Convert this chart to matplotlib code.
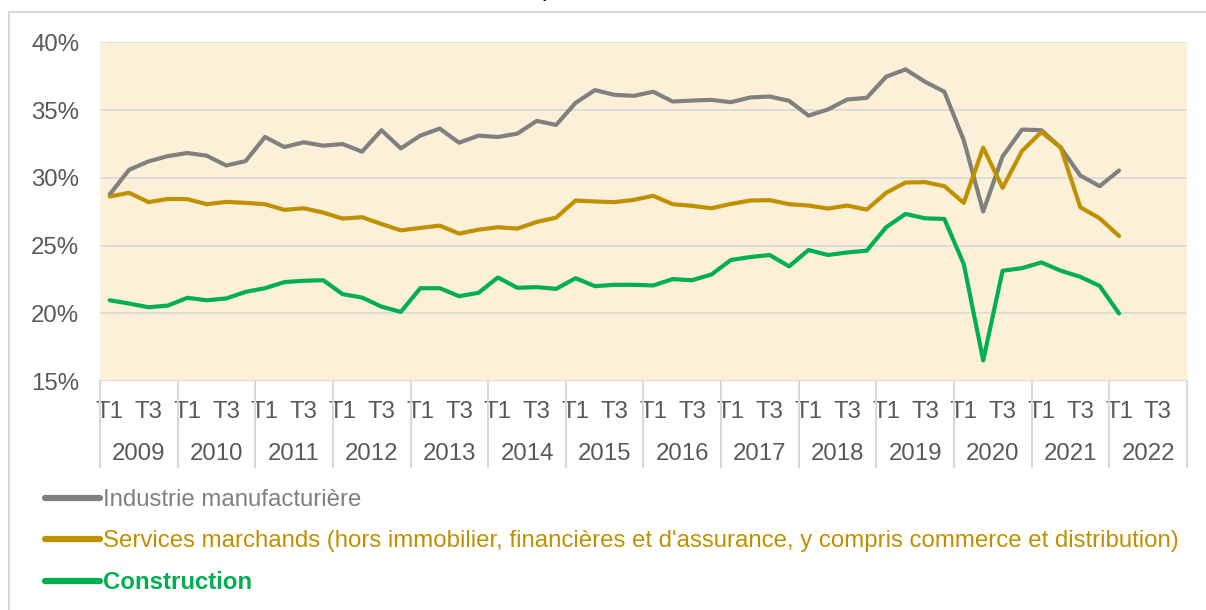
import matplotlib
matplotlib.use("Agg")
import matplotlib.pyplot as plt
import matplotlib.transforms as mtransforms
from matplotlib.patches import Rectangle
import numpy as np

plt.rcParams["font.family"] = ["Liberation Sans", "DejaVu Sans"]

YEARS = [str(y) for y in range(2009, 2023)]
QUARTER_LABELS = ["T1", "", "T3", ""]

industrie = [
    28.77, 30.59, 31.21, 31.60, 31.83, 31.63, 30.91, 31.23, 33.01, 32.27,
    32.62, 32.37, 32.49, 31.93, 33.51, 32.17, 33.11, 33.63, 32.59, 33.11,
    33.01, 33.26, 34.20, 33.90, 35.53, 36.47, 36.12, 36.05, 36.35, 35.63,
    35.70, 35.75, 35.58, 35.93, 36.00, 35.68, 34.59, 35.04, 35.78, 35.90,
    37.46, 38.00, 37.09, 36.35, 32.77, 27.51, 31.58, 33.56, 33.51, 32.22,
    30.17, 29.38, 30.54,
]
services = [
    28.62, 28.89, 28.20, 28.44, 28.42, 28.05, 28.22, 28.15, 28.05, 27.63,
    27.75, 27.43, 26.99, 27.09, 26.59, 26.12, 26.30, 26.47, 25.88, 26.17,
    26.35, 26.25, 26.74, 27.06, 28.32, 28.25, 28.20, 28.37, 28.67, 28.05,
    27.93, 27.75, 28.07, 28.32, 28.35, 28.05, 27.95, 27.73, 27.95, 27.65,
    28.89, 29.65, 29.68, 29.38, 28.15, 32.22, 29.26, 31.98, 33.38, 32.22,
    27.83, 27.01, 25.70,
]
construction = [
    20.96, 20.72, 20.44, 20.57, 21.14, 20.96, 21.09, 21.58, 21.85, 22.30,
    22.40, 22.44, 21.41, 21.16, 20.49, 20.10, 21.85, 21.85, 21.26, 21.51,
    22.64, 21.88, 21.93, 21.80, 22.59, 22.00, 22.10, 22.10, 22.05, 22.52,
    22.44, 22.86, 23.93, 24.15, 24.30, 23.46, 24.67, 24.30, 24.49, 24.62,
    26.35, 27.33, 27.01, 26.96, 23.63, 16.52, 23.14, 23.33, 23.75, 23.14,
    22.69, 22.02, 19.98,
]

SERIES = [
    ("Industrie manufacturière", industrie, "#808080"),
    ("Services marchands (hors immobilier, financières et d'assurance, "
     "y compris commerce et distribution)", services, "#BF9000"),
    ("Construction", construction, "#00B050"),
]

W, H = 1206, 610
FS = 17.3
fig = plt.figure(figsize=(W / 100, H / 100), dpi=100)
fig.patch.set_facecolor("white")

# outer chart frame (partly outside the picture)
fig.patches.append(Rectangle((9 / W, -0.1), 1.2, 1.1 - 12 / H,
                             transform=fig.transFigure, fill=False,
                             edgecolor="#D9D9D9", linewidth=1.5))
# cut-off title (only the descender shows)
fig.text(548 / W, 1 + 4 / H, "p", fontsize=FS, va="baseline", ha="center",
         color="black")

ax = fig.add_axes([100 / W, 1 - 381 / H, (1187 - 100) / W, (381 - 42.3) / H])
ax.set_facecolor("#FCF0D9")

n_cat = len(YEARS) * 4
x = np.arange(len(industrie))
for label, vals, color in SERIES:
    ax.plot(x, vals, color=color, lw=3.0, label=label,
            solid_capstyle="round", solid_joinstyle="round", zorder=3)

ax.set_xlim(-0.5, n_cat - 0.5)
ax.set_ylim(15, 40)
ax.set_yticks([15, 20, 25, 30, 35, 40])
ax.set_yticklabels([f"{v}%" for v in [15, 20, 25, 30, 35, 40]])
ax.yaxis.grid(True, color="#D9D9D9", lw=1.2)
ax.set_axisbelow(True)
for s in ax.spines.values():
    s.set_visible(False)
ax.tick_params(axis="y", length=0, pad=15, labelsize=FS, labelcolor="#595959")

# quarter labels
qpos = [i for i in range(n_cat) if QUARTER_LABELS[i % 4]]
ax.set_xticks(qpos)
ax.set_xticklabels([QUARTER_LABELS[i % 4] for i in qpos])
ax.tick_params(axis="x", length=0, pad=14.5, labelsize=FS, labelcolor="#595959")

# year labels and separators
trans = mtransforms.blended_transform_factory(ax.transData, ax.transAxes)
ax_h = (381 - 42.3)
for k, year in enumerate(YEARS):
    ax.text(4 * k + 1.5, -(454 - 381) / ax_h, year, transform=trans,
            ha="center", va="center", fontsize=FS, color="#595959")
for k in range(len(YEARS) + 1):
    ax.plot([4 * k - 0.5, 4 * k - 0.5], [0, -(467 - 381) / ax_h],
            transform=trans, color="#D9D9D9", lw=1.5, clip_on=False)

leg = fig.legend(loc="upper left", bbox_to_anchor=(33 / W, 1 - 477 / H),
                 frameon=False, handlelength=2.3, handletextpad=0.12,
                 labelspacing=0.8, borderpad=0, fontsize=FS,
                 labelcolor="linecolor")
for line in leg.get_lines():
    line.set_linewidth(4.5)
leg.get_texts()[2].set_fontweight("bold")

fig.savefig("out.png", dpi=100)
